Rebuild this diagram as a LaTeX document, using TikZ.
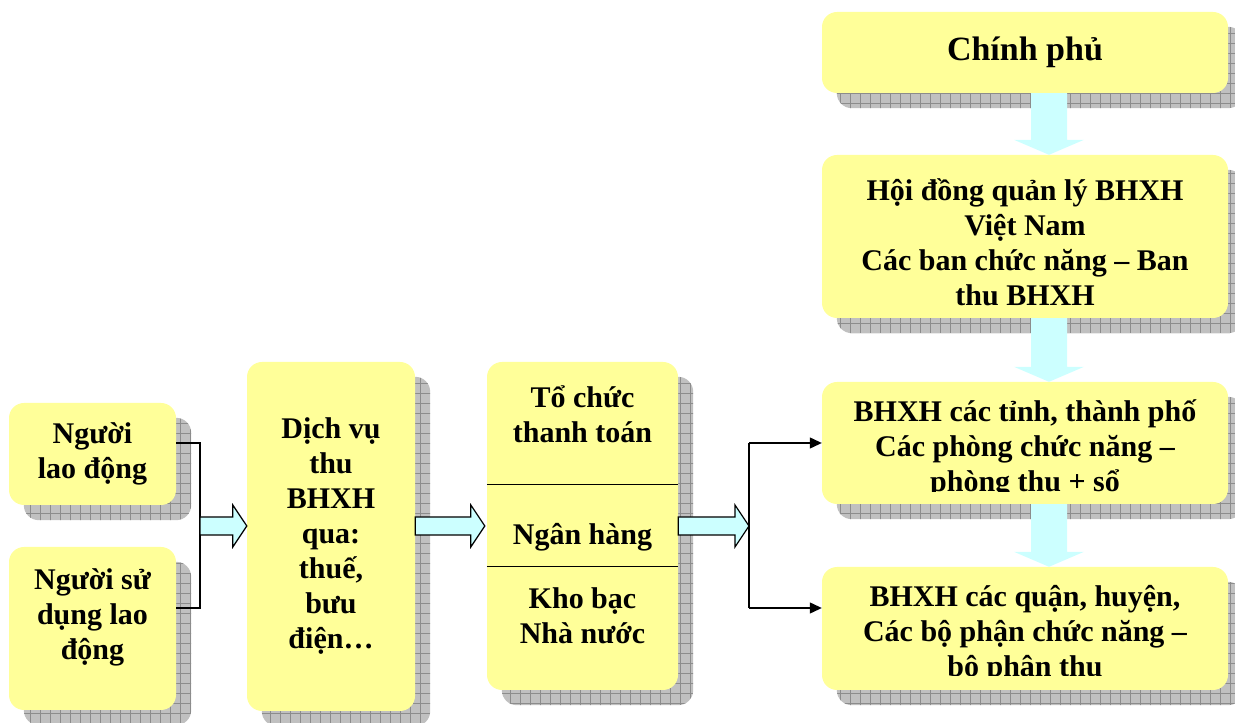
\documentclass[tikz,border=0pt]{standalone}
\usepackage{fontspec}
\setmainfont{Liberation Serif}
\usetikzlibrary{backgrounds,patterns.meta,arrows.meta,calc}
\definecolor{boxfill}{RGB}{255,255,153}
\definecolor{flowfill}{RGB}{204,255,255}
\definecolor{shadowgray}{RGB}{192,192,192}
\definecolor{gridgray}{RGB}{140,140,140}

% block arrow to the right, from #1 to the tip #2
\newcommand{\rightblock}[2]{%
  \draw[flowarrow] let \p1=(#1), \p2=(#2) in
    (\x1,\y1+9pt) -- (\x2-14pt,\y1+9pt) -- (\x2-14pt,\y1+21pt) -- (\x2,\y1)
    -- (\x2-14pt,\y1-21pt) -- (\x2-14pt,\y1-9pt) -- (\x1,\y1-9pt) -- cycle;}
% block arrow downwards, from #1 to the tip #2
\newcommand{\downblock}[2]{%
  \fill[downarrow] let \p1=(#1), \p2=(#2) in
    (\x1-18pt,\y1) -- (\x1-18pt,\y2+15pt) -- (\x1-35pt,\y2+15pt) -- (\x1,\y2)
    -- (\x1+35pt,\y2+15pt) -- (\x1+18pt,\y2+15pt) -- (\x1+18pt,\y1) -- cycle;}

\begin{document}
\begin{tikzpicture}[x=1pt,y=1pt,
    box/.style={fill=boxfill,rounded corners=15pt,inner sep=0pt,align=center,
      font=\fontsize{30}{35}\selectfont\bfseries},
    boxtext/.style={inner sep=0pt,align=center,font=\fontsize{30}{35}\selectfont\bfseries},
    boxshadow/.style={fill=shadowgray,rounded corners=15pt,
      postaction={pattern={Hatch[angle=0,distance=10pt,line width=0.6pt]},pattern color=gridgray}},
    link/.style={line width=1.2pt},
    flowarrow/.style={fill=flowfill,draw=black,line width=1.2pt,line join=miter},
    downarrow/.style={fill=flowfill}]
    \useasboundingbox (0,0) rectangle (1235,723);

    % left column
    \node[box,minimum width=167pt,minimum height=102pt] (worker) at (92.5,269) {Người\\lao động};
    \node[box,minimum width=167pt,minimum height=163pt] (employer) at (92.5,94.5) {};
    \node[boxtext] (employertext) at ([yshift=11.5pt]employer.center) {Người sử\\dụng lao\\động};

    % collecting services
    \node[box,minimum width=168pt,minimum height=349pt] (service) at (331,186.5)
        {Dịch vụ\\thu\\BHXH\\qua:\\thuế,\\bưu\\điện…};

    % payment organisations
    \node[box,minimum width=191pt,minimum height=328pt] (payment) at (582.5,197) {};
    \node[boxtext] (paytop) at ([yshift=-52pt]payment.north) {Tổ chức\\thanh toán};
    \node[boxtext] (paymid) at ([yshift=-11pt]payment.center) {Ngân hàng};
    \node[boxtext] (paybot) at ([yshift=74pt]payment.south) {Kho bạc\\Nhà nước};
    \draw[line width=1pt] ([yshift=41pt]payment.west) -- ([yshift=41pt]payment.east);
    \draw[line width=1pt] ([yshift=-41pt]payment.west) -- ([yshift=-41pt]payment.east);

    % right column
    \node[box,minimum width=406pt,minimum height=81pt,font=\fontsize{34}{40}\selectfont\bfseries]
        (gov) at (1025,670.5) {Chính phủ};
    \node[box,minimum width=406pt,minimum height=163pt] (council) at (1025,486.5) {};
    \node[boxtext] (counciltext) at ([yshift=-6pt]council.center)
        {Hội đồng quản lý BHXH\\Việt Nam\\Các ban chức năng -- Ban\\thu BHXH};
    \node[box,minimum width=406pt,minimum height=122pt] (province) at (1025,280) {};
    \node[box,minimum width=406pt,minimum height=123pt] (district) at (1025,94.5) {};
    \begin{scope}
        \clip (province.north west) rectangle ([yshift=13pt]province.south east);
        \node[boxtext] (provincetext) at ([yshift=-6pt]province.center)
            {BHXH các tỉnh, thành phố\\Các phòng chức năng --\\phòng thu + sổ};
    \end{scope}
    \begin{scope}
        \clip (district.north west) rectangle ([yshift=15pt]district.south east);
        \node[boxtext] (districttext) at ([yshift=-5.5pt]district.center)
            {BHXH các quận, huyện,\\Các bộ phận chức năng --\\bộ phận thu};
    \end{scope}

    % shadows
    \begin{scope}[on background layer]
        \foreach \n in {worker,employer,service,payment,gov,council,province,district}
            \fill[boxshadow] ([shift={(15,-15)}]\n.south west) rectangle ([shift={(15,-15)}]\n.north east);
    \end{scope}

    % joins and arrows
    \coordinate (jtop) at (200,280);
    \coordinate (jbot) at (200,115);
    \coordinate (jmid) at (200,197);
    \draw[link] ([yshift=11pt]worker.east) -- (jtop) -- (jbot) -- ([yshift=20.5pt]employer.east);
    \rightblock{jmid}{service.west |- jmid}
    \rightblock{service.east |- payment.center}{[xshift=-2pt]payment.west}

    \coordinate (rmid) at (749,197);
    \coordinate (rtop) at (749,280);
    \coordinate (rbot) at (749,115);
    \rightblock{payment.east}{rmid}
    \draw[link] (rtop) -- (rbot);
    \draw[link,-{Triangle[length=12pt,width=11pt]}] (rtop) -- (province.west);
    \draw[link,-{Triangle[length=12pt,width=11pt]}] (rbot) -- (rbot -| district.west);

    \downblock{[xshift=24pt]gov.south}{[xshift=24pt]council.north}
    \downblock{[xshift=24pt]council.south}{[xshift=24pt]province.north}
    \downblock{[xshift=24pt]province.south}{[xshift=24pt]district.north}
\end{tikzpicture}
\end{document}
